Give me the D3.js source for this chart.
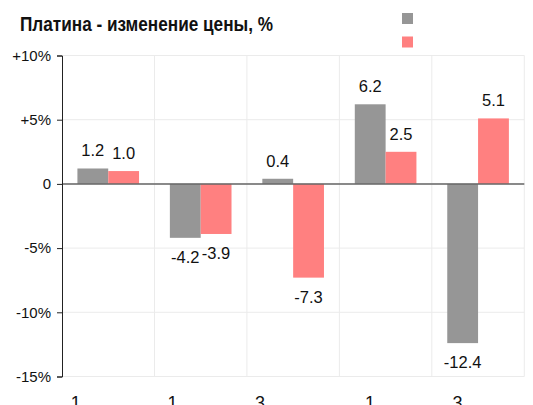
<!DOCTYPE html>
<html>
<head>
<meta charset="utf-8">
<script src="https://cdn.jsdelivr.net/npm/d3@7"></script>
<style>
  body { margin: 0; background: #fff; }
  text { font-family: "Liberation Sans", Arial, sans-serif; }
</style>
</head>
<body>
<div id="chart"></div>
<script>

//Chart data.
var categories = ["1 неделя", "1 месяц", "3 месяца", "1 год", "3 года"];
var seriesA = [1.2, -4.2, 0.4, 6.2, -12.4];
var seriesB = [1.0, -3.9, -7.3, 2.5, 5.1];
var yTicks = [10, 5, 0, -5, -10, -15];
var title = "Платина - изменение цены, %";

var width = 533, height = 405;
var plotLeft = 62, plotRight = 524.3, plotTop = 55.5, plotBottom = 376.5;
var colors = ["#969696", "#ff8080"];

var svg = d3.select("#chart").append("svg")
    .attr("width", width)
    .attr("height", height);

//Scales.
var x = d3.scaleBand().domain(categories).range([plotLeft, plotRight]).padding(0);
var x1 = d3.scaleBand().domain([0, 1]).range([0, x.bandwidth()]).paddingOuter(0.5).paddingInner(0);
var y = d3.scaleLinear().domain([-15, 10]).range([plotBottom, plotTop]);

//Grid lines.
var grid = svg.append("g").attr("stroke", "#ebebeb").attr("stroke-width", 1);
grid.selectAll("line.h").data(yTicks).enter().append("line")
    .attr("class", "h")
    .attr("x1", plotLeft).attr("x2", plotRight)
    .attr("y1", function(d) { return y(d); })
    .attr("y2", function(d) { return y(d); });
grid.selectAll("line.v").data(categories).enter().append("line")
    .attr("class", "v")
    .attr("x1", function(d) { return x(d) + x.bandwidth(); })
    .attr("x2", function(d) { return x(d) + x.bandwidth(); })
    .attr("y1", plotTop).attr("y2", plotBottom);

//Bars.
var rows = categories.map(function(c, i) { return { cat: c, vals: [seriesA[i], seriesB[i]] }; });
var groups = svg.append("g").selectAll("g").data(rows).enter().append("g")
    .attr("transform", function(d) { return "translate(" + x(d.cat) + ",0)"; });

groups.selectAll("rect").data(function(d) { return d.vals; }).enter().append("rect")
    .attr("x", function(d, i) { return x1(i); })
    .attr("width", x1.bandwidth())
    .attr("y", function(d) { return y(Math.max(0, d)); })
    .attr("height", function(d) { return Math.abs(y(d) - y(0)); })
    .attr("fill", function(d, i) { return colors[i]; });

//Value labels.
groups.selectAll("text").data(function(d) { return d.vals; }).enter().append("text")
    .attr("x", function(d, i) { return x1(i) + x1.bandwidth() / 2; })
    .attr("y", function(d) { return d >= 0 ? y(d) - 12 : y(d) + 25; })
    .attr("text-anchor", "middle")
    .attr("font-size", "16.5px")
    .attr("fill", "#111")
    .text(function(d) { return d.toFixed(1); });

//Zero line.
svg.append("line")
    .attr("x1", plotLeft).attr("x2", plotRight)
    .attr("y1", y(0)).attr("y2", y(0))
    .attr("stroke", "#666").attr("stroke-width", 1.5);

//Y axis.
var yAxis = d3.axisLeft(y)
    .tickValues(yTicks)
    .tickSize(5)
    .tickPadding(6)
    .tickFormat(function(d) { return d > 0 ? "+" + d + "%" : d === 0 ? "0" : d + "%"; });
var ya = svg.append("g").attr("transform", "translate(" + plotLeft + ",0)").call(yAxis);
ya.select(".domain").attr("stroke", "#222");
ya.selectAll(".tick line").attr("stroke", "#222");
ya.selectAll(".tick text")
    .attr("font-size", "15px")
    .attr("font-family", "Liberation Sans, Arial, sans-serif")
    .attr("fill", "#111");

//Category labels: centred on the band, only the top of the first word fits in the window.
var cat = svg.append("g").selectAll("text").data(categories).enter().append("text")
    .attr("x", function(d) { return x(d) + x.bandwidth() / 2; })
    .attr("y", 409)
    .attr("text-anchor", "middle")
    .attr("font-size", "18px")
    .attr("fill", "#111");
cat.append("tspan").text(function(d) { return d.split(" ")[0]; });
cat.append("tspan").attr("dy", 14).text(function(d) { return " " + d.split(" ").slice(1).join(" "); });

//Title.
svg.append("text")
    .attr("x", 20).attr("y", 31)
    .attr("font-size", "19.5px")
    .attr("font-weight", "bold")
    .attr("textLength", 253)
    .attr("lengthAdjust", "spacingAndGlyphs")
    .attr("fill", "#111")
    .text(title);

//Legend squares.
svg.append("g").selectAll("rect").data(colors).enter().append("rect")
    .attr("x", 402)
    .attr("y", function(d, i) { return 13 + i * 23.5; })
    .attr("width", 11).attr("height", 11)
    .attr("fill", function(d) { return d; });

</script>
</body>
</html>
